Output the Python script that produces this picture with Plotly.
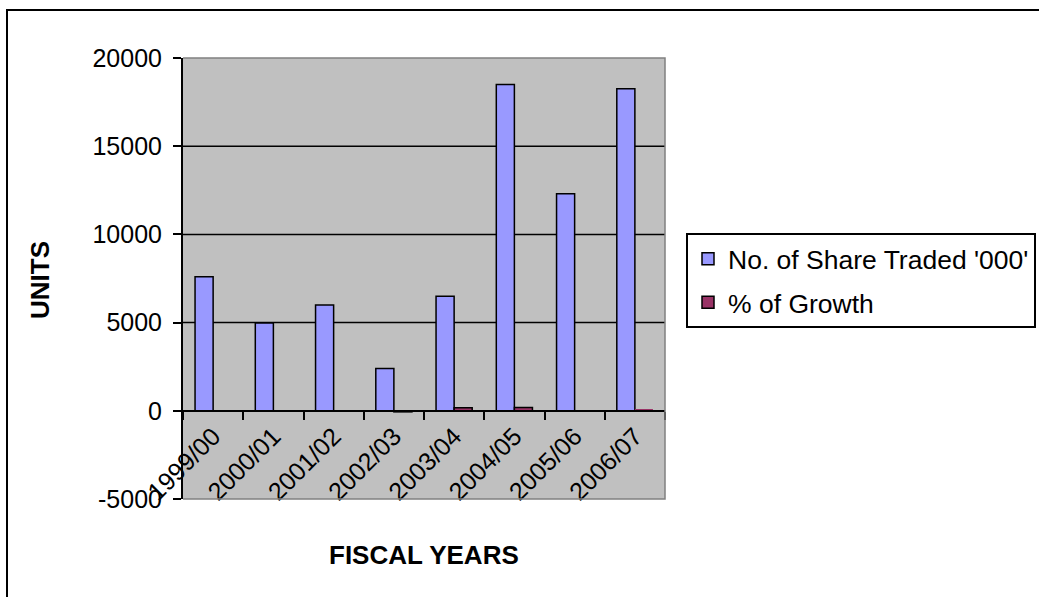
import plotly.graph_objects as go

# Share trading by fiscal year
fiscal_years = ["1999/00", "2000/01", "2001/02", "2002/03",
                "2003/04", "2004/05", "2005/06", "2006/07"]
shares_traded = [7600, 4980, 6000, 2400, 6490, 18500, 12300, 18250]
growth_pct = [None, -34, 20, -60, 167, 183, -33, 48]
y_ticks = [-5000, 0, 5000, 10000, 15000, 20000]
y_tick_labels = ["-5000", "0", "5000", "10000", "15000", "20000"]
y_range = [-5000, 20000]

W, H = 1039, 597
PL, PR, PT, PB = 183, 665, 58, 499   # plot-area edges in pixels


def fx(px):
    return (px - PL) / (PR - PL)


def fy(py):
    return (PB - py) / (PB - PT)


FONT = "Liberation Sans, Arial, sans-serif"

# bars shorter than about one pixel are drawn without an outline
growth_outline = [0 if v is not None and abs(v) < 50 else 1.5
                  for v in growth_pct]

fig = go.Figure()
fig.add_bar(
    x=fiscal_years, y=shares_traded, name="No. of Share Traded '000'",
    marker=dict(color="#9999FF", line=dict(color="black", width=1.5)),
    legendgroup="shares",
)
fig.add_bar(
    x=fiscal_years, y=growth_pct, name="% of Growth",
    marker=dict(color="#993366",
                line=dict(color="black", width=growth_outline)),
    legendgroup="growth",
)

shapes = []
# horizontal gridlines at the inner ticks only
for v in y_ticks:
    if y_range[0] < v < y_range[1] and v != 0:
        shapes.append(dict(type="line", xref="paper", yref="y", x0=0, x1=1,
                           y0=v, y1=v, line=dict(color="black", width=1.5),
                           layer="below"))
# grey frame on top, right and bottom of the plot area
shapes.append(dict(type="path", xref="paper", yref="paper",
                   path="M 0,1 L 1,1 L 1,0 L 0,0",
                   line=dict(color="#808080", width=1.5), layer="above"))
# outer chart border
shapes.append(dict(type="rect", xref="paper", yref="paper",
                   x0=fx(7), x1=fx(1060), y0=fy(620), y1=fy(10),
                   line=dict(color="black", width=2), layer="below"))

zero_pos = (0 - y_range[0]) / (y_range[1] - y_range[0])

fig.update_layout(
    width=W, height=H,
    margin=dict(l=PL, r=W - PR, t=PT, b=H - PB, autoexpand=False),
    barmode="group", bargap=0.4, bargroupgap=0,
    plot_bgcolor="#C0C0C0", paper_bgcolor="white",
    font=dict(family=FONT, size=25, color="black"),
    showlegend=True,
    legend=dict(
        x=fx(686), y=fy(233), xanchor="left", yanchor="top",
        bgcolor="white", bordercolor="black", borderwidth=2,
        font=dict(size=26.5, family=FONT), tracegroupgap=6,
        traceorder="grouped",
    ),
    xaxis=dict(
        type="category", range=[-0.5, len(fiscal_years) - 0.5],
        anchor="free", position=zero_pos,
        showline=True, linecolor="black", linewidth=2,
        ticks="outside", ticklen=8, tickwidth=2, tickcolor="black",
        tickson="boundaries", tickangle=-45, showgrid=False,
        tickfont=dict(size=25),
    ),
    yaxis=dict(
        range=y_range, tickvals=y_ticks, ticktext=y_tick_labels,
        showgrid=False, zeroline=False,
        showline=True, linecolor="black", linewidth=2,
        ticks="outside", ticklen=8, tickwidth=2, tickcolor="black",
        ticklabelstandoff=6, tickfont=dict(size=25),
    ),
    shapes=shapes,
    annotations=[
        dict(text="<b>UNITS</b>", xref="paper", yref="paper",
             x=fx(40), y=fy(280), textangle=-90, showarrow=False,
             xanchor="center", yanchor="middle", font=dict(size=26)),
        dict(text="<b>FISCAL YEARS</b>", xref="paper", yref="paper",
             x=0.5, y=fy(555), showarrow=False,
             xanchor="center", yanchor="middle", font=dict(size=26)),
    ],
)

fig.write_html("out.html")
